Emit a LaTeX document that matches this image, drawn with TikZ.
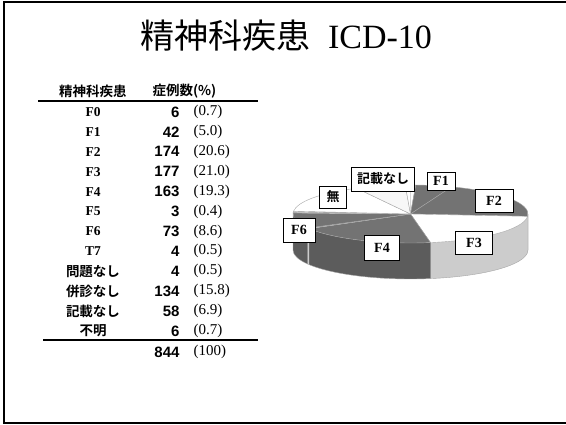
\documentclass[tikz,border=0pt]{standalone}
\usepackage{fontspec}
\setmainfont{Liberation Serif}
\newfontfamily\jpfont{Noto Sans CJK JP}[BoldFont={Noto Sans CJK JP Bold}]
\newfontfamily\numfont{Liberation Sans}

\definecolor{pie dark}{gray}{0.45}
\definecolor{pie darker}{gray}{0.36}
\definecolor{pie light}{gray}{0.80}
\definecolor{pie pale}{gray}{0.97}

\begin{document}
\begin{tikzpicture}[x=1pt,y=1pt,
  tag/.style={draw, fill=white, inner sep=0pt, font=\bfseries\fontsize{14}{14}\selectfont},
  catname/.style={font=\bfseries\fontsize{13.5}{13.5}\selectfont},
  count/.style={anchor=east, font=\numfont\bfseries\fontsize{15}{15}\selectfont},
  share/.style={anchor=west, font=\fontsize{15}{15}\selectfont}]
\useasboundingbox (0,0) rectangle (566,425);
\clip (0,0) rectangle (566,425);
\def\rx{117.5}
\def\ry{29}
\coordinate (pc) at (410.5,211);

% frame and title
\draw[line width=1.6pt] (4,2) rectangle (575,423);
\node[font=\fontsize{34}{34}\selectfont] (title) at (286,389) {{\jpfont 精神科疾患}\hspace{18pt}ICD-10};

% table
\node[font=\jpfont\bfseries\fontsize{13.5}{13.5}\selectfont] (head1) at (93,334) {精神科疾患};
\node[anchor=west, font=\jpfont\bfseries\fontsize{13.5}{13.5}\selectfont] (head2) at (149,334) {症例数(\%)};
\draw[line width=1.4pt] (38,324) -- (258,324);
\foreach \lab/\num/\pc [count=\i from 0] in {F0/6/0.7, F1/42/5.0, F2/174/20.6, F3/177/21.0,
    F4/163/19.3, F5/3/0.4, F6/73/8.6, T7/4/0.5, {\jpfont 問題なし}/4/0.5,
    {\jpfont 併診なし}/134/15.8, {\jpfont 記載なし}/58/6.9, {\jpfont 不明}/6/0.7}{
  \node[catname] (cat\i) at (93,313-19.9*\i) {\lab};
  \node[count] (num\i) at (183,313-19.9*\i) {\num};
  \node[share] (pct\i) at (190,313-19.9*\i) {(\pc)};
}
\draw[line width=1.4pt] (43,85) -- (258,85);
\node[count] (total) at (183,73) {844};
\node[share] (totalpct) at (190,73) {(100)};

% pie: sides first, then the top face
\foreach \a/\b/\c in {-4.69/0/pie darker, -80.19/-4.69/pie light, -149.72/-80.19/pie darker,
    -151/-149.72/pie light, -180/-151/pie darker}{
  \fill[\c] (pc) ++(\a:\rx\space and \ry) arc[start angle=\a, end angle=\b, x radius=\rx, y radius=\ry]
    -- ++(0,-36) arc[start angle=\b, end angle=\a, x radius=\rx, y radius=\ry] -- cycle;
}
\foreach \a/\b/\c in {87.44/90/white, 69.53/87.44/pie dark, -4.69/69.53/pie dark,
    -80.19/-4.69/white, -149.72/-80.19/pie dark, -151/-149.72/white, -182.13/-151/pie dark,
    -183.84/-182.13/white, -185.55/-183.84/white, -242.70/-185.55/white,
    -267.44/-242.70/pie pale, -270/-267.44/white}{
  \filldraw[fill=\c, draw=gray!70, line width=0.4pt] (pc) -- ++(\a:\rx\space and \ry)
    arc[start angle=\a, end angle=\b, x radius=\rx, y radius=\ry] -- cycle;
}
\draw[gray!70, line width=0.4pt] (pc) ++(-180:\rx\space and \ry) -- ++(0,-36)
  arc[start angle=-180, end angle=0, x radius=\rx, y radius=\ry] -- ++(0,36);

% labels
\node[tag, minimum width=63pt, minimum height=24pt, font=\jpfont\bfseries\fontsize{13}{13}\selectfont] (kisai) at (383,246) {記載なし};
\node[tag, minimum width=28pt, minimum height=18pt] (f1) at (441,244) {F1};
\node[tag, minimum width=38pt, minimum height=23pt] (f2) at (494,224) {F2};
\node[tag, minimum width=37pt, minimum height=23pt] (f3) at (474,182) {F3};
\node[tag, minimum width=35pt, minimum height=25pt] (f4) at (382,177) {F4};
\node[tag, minimum width=32pt, minimum height=24pt] (f6) at (299,195) {F6};
\node[tag, minimum width=27pt, minimum height=22pt, font=\jpfont\bfseries\fontsize{13}{13}\selectfont] (mu) at (333,228) {無};
\end{tikzpicture}
\end{document}
